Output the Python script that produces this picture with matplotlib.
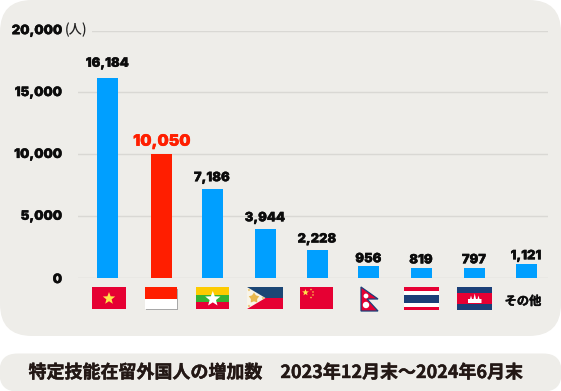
import numpy as np
import matplotlib
matplotlib.use("Agg")
import matplotlib.pyplot as plt
import matplotlib.patheffects as pe
from matplotlib.patches import FancyBboxPatch, Rectangle, Polygon, Circle

categories = ["Vietnam", "Indonesia", "Myanmar", "Philippines", "China", "Nepal", "Thailand", "Cambodia", "その他"]
values = [16184, 10050, 7186, 3944, 2228, 956, 819, 797, 1121]
value_labels = ["16,184", "10,050", "7,186", "3,944", "2,228", "956", "819", "797", "1,121"]
yticks = [0, 5000, 10000, 15000, 20000]
ytick_labels = ["0", "5,000", "10,000", "15,000", "20,000"]
title = "特定技能在留外国人の増加数　2023年12月末〜2024年6月末"

LATIN = ["Inter", "DejaVu Sans"]
CJK = ["Noto Sans CJK JP", "DejaVu Sans"]
PANEL = "#eeede9"; BLUE = "#009fff"; RED = "#ff1e00"; INK = "#0c0c0c"
FR = "#e60033"; NAVY = "#1b3f78"
def thick(c, w=0.25):
    return [pe.withStroke(linewidth=w, foreground=c)]

fig = plt.figure(figsize=(5.61, 3.91), dpi=100, facecolor="white")
bg = fig.add_axes([0, 0, 1, 1]); bg.set_xlim(0, 561); bg.set_ylim(391, 0); bg.axis("off")
bg.add_patch(FancyBboxPatch((32, 32), 497, 272, boxstyle="round,pad=32,rounding_size=32", fc=PANEL, ec="none"))
bg.add_patch(FancyBboxPatch((18, 372), 525, 1, boxstyle="round,pad=18.5,rounding_size=18", fc=PANEL, ec="none"))
bg.text(275.5, 373, title, family=CJK, fontweight="bold", fontsize=12.95, color="#231815", ha="center", va="center",
        path_effects=thick("#231815", 0.3))

ax = fig.add_axes([78/561, (391-278)/391, 470/561, 247.5/391], facecolor="none")
xpix = [107.5, 161.5, 212, 265, 317, 368.5, 421, 474, 526]
label_gap = [5.7, 3.5, 3.5, 3.5, 3.5, 0.6, 1.0, 1.3, 1.3]
ax.set_xlim(78, 548); ax.set_ylim(0, 20000)
colors = [RED if c == "Indonesia" else BLUE for c in categories]
ax.bar(xpix, values, width=21, color=colors, zorder=3)
ax.set_yticks(yticks)
ax.set_yticklabels([""] * len(yticks))
ax.tick_params(axis="y", length=0)
ax.set_xticks([])
ax.grid(axis="y", color="#d9d8d4", lw=1, zorder=0)
for s in ax.spines.values():
    s.set_visible(False)
ax.set_zorder(1); bg.set_zorder(0)
ovl = fig.add_axes([0, 0, 1, 1], facecolor="none"); ovl.set_xlim(0, 561); ovl.set_ylim(391, 0); ovl.axis("off"); ovl.set_zorder(2)
ovl.add_patch(Rectangle((76, 27), 16, 6, fc=PANEL, ec="none"))
ovl.text(64.5, 30, "(人)", family=CJK, fontsize=9.5, color="#222222", va="center", ha="left", fontweight="medium")

for t, lab in zip(yticks, ytick_labels):
    ax.annotate(lab, (0, t), xycoords=ax.get_yaxis_transform(), xytext=(-11.5, -1.5 if t == 0 else -0.5),
                textcoords="offset points", ha="right", va="center", family=LATIN, fontweight="black",
                fontsize=9.4, color=INK, path_effects=thick(INK), annotation_clip=False)

for x, v, lab, c, g in zip(xpix, values, value_labels, categories, label_gap):
    hi = c == "Indonesia"
    col = RED if hi else INK
    ax.annotate(lab, (x, v), xytext=(0, g), textcoords="offset points", ha="center", va="bottom",
                family=LATIN, fontweight="black", fontsize=11.4 if hi else 9.3,
                color=col, zorder=4, path_effects=thick(col))

def star(cx, cy, r, color, ratio=0.42, rot=0):
    a = np.deg2rad(np.arange(10) * 36 - 90 + rot)
    rr = np.where(np.arange(10) % 2 == 0, r, r * ratio)
    ovl.add_patch(Polygon(np.c_[cx + rr*np.cos(a), cy + rr*np.sin(a)], fc=color, ec="none"))

def rect(x0, y0, x1, y1, c):
    ovl.add_patch(Rectangle((x0, y0), x1-x0, y1-y0, fc=c, ec="none"))

# Vietnam
rect(92, 287, 126, 309, FR); star(109, 298.5, 6.5, "#ffe24a")
# Indonesia
rect(146, 289, 178, 310, "#a8a8a8")
rect(145, 287, 177, 298.5, "#ff1e00"); rect(145, 298.5, 177, 309, "white")
# Myanmar
rect(196, 287, 229.5, 294.5, "#fdcb00"); rect(196, 294.5, 229.5, 302, "#34b233"); rect(196, 302, 229.5, 309, FR)
star(212.8, 299, 8, "white")
# Philippines
rect(247, 287, 283.5, 298, "#1b4675"); rect(247, 298, 283.5, 309, FR)
ovl.add_patch(Polygon([(247, 287), (265.5, 298), (247, 309)], fc="#f8f4e8", ec="none"))
star(254, 298, 5.5, "#e8b84e", ratio=0.6)
for px, py in [(249, 290), (249, 306), (263, 298)]:
    star(px, py, 1.5, "#e8b84e")
# China
rect(300, 287, 333.5, 309, FR)
star(305.5, 292.5, 3.5, "#ffe24a")
for px, py in [(311, 289.5), (313, 292), (313, 295), (311, 297.5)]:
    star(px, py, 1.2, "#ffe24a")
# Nepal
ovl.add_patch(Polygon([(361, 287), (378, 299), (367, 299), (378, 311), (361, 311)], fc=FR, ec=NAVY, lw=0.9))
ovl.add_patch(Circle((366, 296), 2.4, fc="white", ec="none"))
ovl.add_patch(Circle((366, 305), 3.2, fc="white", ec="none"))
# Thailand
rect(404.5, 287, 439, 310, "white")
rect(404.5, 287, 439, 290.5, FR); rect(404.5, 306.5, 439, 310, FR); rect(404.5, 294.5, 439, 302.5, NAVY)
# Cambodia
rect(457, 287, 492.5, 310, NAVY); rect(457, 292.5, 492.5, 304, FR)
ovl.add_patch(Polygon([(468, 303), (468, 299), (470, 299), (471, 295.5), (472, 299), (473.5, 299), (474.7, 293.5),
                       (476, 299), (477.5, 299), (478.5, 295.5), (479.5, 299), (481.5, 299), (481.5, 303)], fc="white", ec="none"))
# Other
ovl.text(523, 301.5, "その他", family=CJK, fontweight="bold", fontsize=8.8, color=INK, ha="center", va="center",
         path_effects=thick(INK, 0.3))

fig.savefig("out.png", dpi=100, facecolor="white")
